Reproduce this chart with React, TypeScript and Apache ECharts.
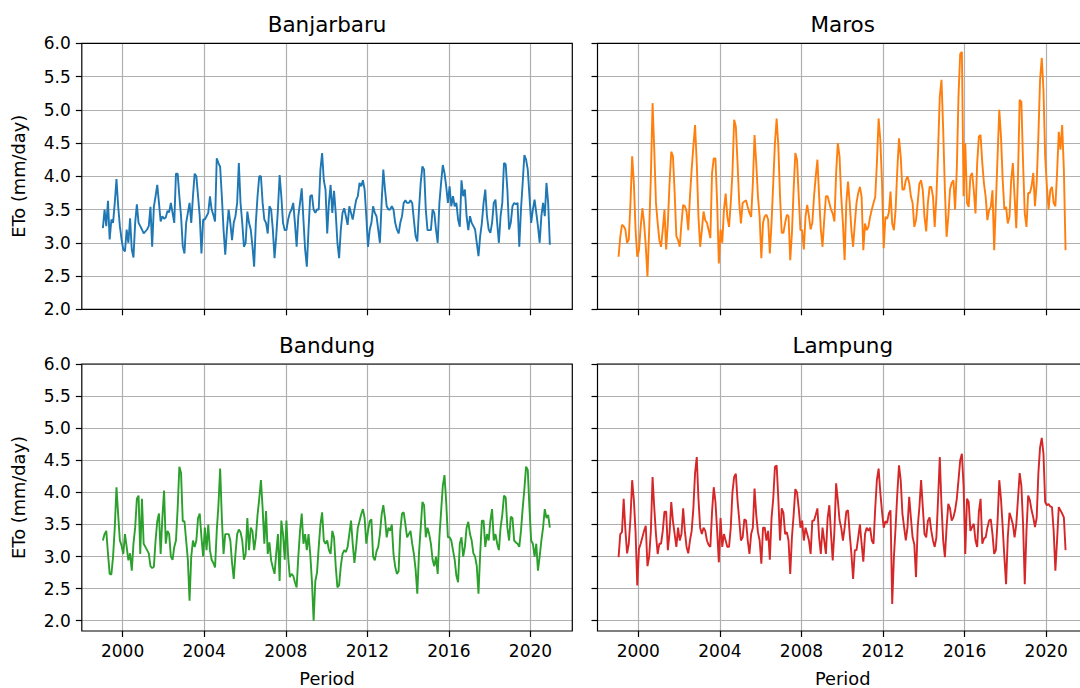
import React, { useEffect, useRef } from "react";
import * as echarts from "echarts";

// ---- data (monthly ETo, Jan 1999 – Dec 2020) ----
const START_YEAR = 1999;
const STATIONS = ["Banjarbaru", "Maros", "Bandung", "Lampung"];
const COLORS = ["#1f77b4", "#ff7f0e", "#2ca02c", "#d62728"];
const YEAR_TICKS = [2000, 2004, 2008, 2012, 2016, 2020];
const Y_TICKS = [2.0, 2.5, 3.0, 3.5, 4.0, 4.5, 5.0, 5.5, 6.0];

const banjarbaru = [
  3.22, 3.5, 3.25, 3.63, 3.05, 3.35, 3.3, 3.6, 3.96, 3.55, 3.25, 3.05,
  2.9, 2.87, 3.2, 3.0, 3.37, 2.9, 2.78, 3.3, 3.58, 3.3, 3.25, 3.2,
  3.14, 3.17, 3.2, 3.25, 3.54, 2.94, 3.54, 3.7, 3.87, 3.6, 3.32, 3.4,
  3.36, 3.38, 3.48, 3.46, 3.6, 3.45, 3.3, 4.04, 4.04, 3.7, 3.4, 2.95,
  2.84, 3.3, 3.45, 3.6, 3.3, 3.7, 4.04, 4.0, 3.7, 3.4, 2.84, 3.35,
  3.35, 3.4, 3.45, 3.7, 3.5, 3.42, 3.32, 4.27, 4.2, 4.14, 3.7, 3.2,
  2.82, 3.2, 3.5, 3.3, 3.04, 3.3, 3.4, 3.6, 4.2, 3.6, 3.3, 2.94,
  3.0, 3.47, 3.3, 3.2, 2.95, 2.64, 3.3, 3.7, 4.0, 4.0, 3.6, 3.35,
  3.3, 3.14, 3.55, 3.5, 3.2, 2.77, 3.1, 3.5, 4.02, 3.7, 3.3, 3.19,
  3.19, 3.35, 3.45, 3.5, 3.6, 3.3, 2.94, 3.4, 3.6, 3.82, 3.35, 2.9,
  2.64, 3.2, 3.7, 3.72, 3.5, 3.45, 3.5, 3.5, 4.1, 4.35, 3.94, 3.8,
  3.14, 3.6, 3.87, 3.45, 3.78, 3.45, 3.0, 2.77, 3.2, 3.45, 3.52, 3.4,
  3.27, 3.55, 3.45, 3.35, 3.5, 3.64, 3.7, 3.9, 3.85, 3.94, 3.8, 3.4,
  2.94, 3.2, 3.3, 3.55, 3.45, 3.4, 3.2, 3.0, 3.6, 4.1, 3.8, 3.55,
  3.5, 3.5, 3.55, 3.5, 3.3, 3.2, 3.14, 3.3, 3.4, 3.6, 3.64, 3.6,
  3.6, 3.64, 3.6, 3.34, 3.1, 3.02, 3.5, 3.9, 4.15, 4.1, 3.5, 3.19,
  3.19, 3.19, 3.5, 3.45, 3.2, 3.0, 3.6, 3.9, 4.17, 4.05, 3.85, 3.6,
  3.85, 3.55, 3.7, 3.55, 3.6, 3.35, 3.24, 3.94, 3.7, 3.8, 3.4, 3.19,
  3.4, 3.3, 3.25, 3.2, 3.0, 2.8, 3.1, 3.3, 3.6, 3.8, 3.4, 3.2,
  3.15, 3.3, 3.6, 3.65, 3.3, 3.0, 3.4, 3.6, 4.2, 4.18, 3.8, 3.2,
  3.3, 3.55, 3.6, 3.58, 3.6, 2.94, 3.5, 3.9, 4.32, 4.25, 4.1, 3.7,
  3.3, 3.5, 3.65, 3.45, 3.25, 3.0, 3.4, 3.6, 3.4, 3.9, 3.6, 2.97,
];

const maros = [
  2.79, 3.09, 3.27, 3.25, 3.2, 3.0, 3.05, 3.6, 4.3, 3.9, 3.19, 2.79,
  2.89, 3.24, 3.52, 3.3, 2.95, 2.49, 3.19, 4.0, 5.1, 4.4, 3.6, 3.3,
  3.04, 2.94, 3.2, 3.5, 2.9, 3.3, 3.9, 4.37, 4.3, 3.75, 3.1, 3.04,
  2.94, 3.29, 3.57, 3.55, 3.47, 3.19, 3.7, 4.1, 4.45, 4.77, 4.2, 3.39,
  2.94, 3.19, 3.47, 3.34, 3.3, 3.19, 3.07, 4.05, 4.27, 4.27, 3.6, 2.69,
  3.2, 3.0, 3.5, 3.74, 3.39, 3.24, 3.6, 4.05, 4.85, 4.75, 4.2, 3.6,
  3.29, 3.6, 3.62, 3.64, 3.54, 3.45, 3.39, 3.89, 4.62, 4.2, 3.7, 3.39,
  2.77, 3.3, 3.4, 3.42, 3.35, 2.84, 3.3, 3.9, 4.5, 4.87, 4.45, 3.7,
  3.15, 3.15, 3.3, 3.42, 3.4, 2.74, 3.15, 3.8, 4.35, 4.25, 3.7, 3.19,
  3.19, 2.9, 3.4, 3.57, 3.4, 3.2, 3.3, 3.7, 4.0, 4.25, 3.7, 3.2,
  2.94, 3.35, 3.7, 3.7, 3.6, 3.5, 3.44, 3.32, 4.05, 4.5, 4.3, 3.7,
  3.29, 2.74, 3.6, 3.92, 3.6, 3.19, 2.94, 3.29, 3.6, 3.75, 3.84, 3.69,
  2.89, 3.29, 3.19, 3.24, 3.39, 3.5, 3.6, 3.69, 4.2, 4.87, 4.55, 3.9,
  2.92, 3.39, 3.36, 3.45, 3.77, 3.29, 3.19, 3.5, 4.1, 4.57, 4.3, 3.8,
  3.8, 3.94, 4.0, 3.9, 3.7, 3.6, 3.24, 3.34, 3.6, 3.89, 3.94, 3.79,
  3.39, 3.17, 3.6, 3.84, 3.84, 3.69, 3.24, 3.69, 4.4, 5.2, 5.45, 4.7,
  3.79, 3.09, 3.39, 3.8, 3.9, 3.94, 3.5, 4.1, 5.2, 5.84, 5.87, 3.7,
  4.5, 3.6, 3.54, 4.0, 4.05, 3.79, 3.44, 4.2, 4.6, 4.62, 4.2, 3.89,
  3.69, 3.34, 3.49, 3.54, 3.79, 2.89, 3.6, 4.3, 5.0, 4.6, 3.95, 3.5,
  3.54, 3.29, 3.39, 3.94, 4.2, 3.69, 3.22, 4.0, 5.15, 5.12, 4.2, 3.44,
  3.24, 3.75, 3.75, 3.85, 4.05, 3.55, 3.9, 4.6, 5.45, 5.78, 5.3, 4.3,
  3.85, 3.5, 3.79, 3.84, 3.6, 3.55, 4.05, 4.67, 4.4, 4.77, 4.1, 2.89,
];

const bandung = [
  3.25, 3.35, 3.4, 3.05, 2.73, 2.72, 3.0, 3.45, 4.08, 3.65, 3.25, 3.17,
  3.04, 3.35, 3.15, 2.94, 3.05, 2.78, 3.2, 3.45, 3.9, 3.95, 3.04, 3.9,
  3.2, 3.15, 3.1, 3.05, 2.85, 2.82, 2.84, 3.25, 3.55, 3.67, 3.04, 3.6,
  4.03, 3.2, 3.4, 3.35, 3.0, 2.95, 3.15, 3.25, 3.75, 4.4, 4.3, 3.55,
  3.55, 3.25, 2.95, 2.31, 3.0, 3.25, 3.15, 3.25, 3.6, 3.67, 3.3, 3.0,
  3.45, 3.1, 3.5, 3.1, 2.95, 2.9, 2.83, 3.4, 3.8, 4.37, 3.6, 3.04,
  3.35, 3.35, 3.35, 3.25, 2.9, 2.65, 3.04, 3.35, 3.42, 3.38, 3.25, 2.95,
  3.04, 3.6, 3.1, 3.45, 3.4, 3.1, 3.3, 3.65, 3.9, 4.19, 3.75, 3.2,
  3.71, 3.04, 3.22, 2.94, 2.83, 2.73, 3.05, 3.35, 2.62, 3.56, 3.35, 2.95,
  3.56, 3.0, 2.68, 2.73, 2.7, 2.6, 2.52, 3.0, 3.4, 3.67, 3.2, 3.35,
  3.1, 3.35, 3.04, 2.62, 2.0, 2.62, 2.75, 3.15, 3.5, 3.69, 3.25, 3.2,
  3.25, 3.1, 3.04, 3.4, 3.3, 2.85, 2.52, 2.55, 2.85, 3.04, 3.1, 3.07,
  3.15, 3.35, 3.56, 3.2, 2.9, 3.15, 3.45, 3.55, 3.66, 3.74, 3.6, 3.2,
  3.4, 3.55, 3.58, 3.0, 2.94, 3.08, 3.15, 3.35, 3.65, 3.8, 3.6, 3.3,
  3.45, 3.4, 3.5, 3.04, 2.84, 2.73, 2.77, 3.4, 3.67, 3.69, 3.5, 3.3,
  3.35, 3.4, 3.2, 3.04, 2.8, 2.42, 3.05, 3.45, 3.85, 3.8, 3.3, 3.45,
  3.35, 3.2, 2.95, 2.85, 3.0, 2.73, 3.3, 3.7, 4.1, 4.27, 3.85, 3.3,
  3.3, 3.25, 3.1, 2.95, 2.7, 2.6, 3.2, 3.3, 3.0, 3.15, 3.45, 3.54,
  3.35, 3.25, 3.05, 3.0, 2.85, 2.42, 3.04, 3.56, 3.56, 3.15, 3.35, 3.25,
  3.56, 3.74, 3.25, 3.35, 3.2, 3.1, 3.45, 3.65, 3.95, 3.92, 3.45, 3.25,
  3.62, 3.6, 3.25, 3.22, 3.2, 3.15, 3.4, 3.75, 4.05, 4.4, 4.35, 3.75,
  3.25, 3.2, 3.0, 3.2, 2.78, 3.0, 3.25, 3.45, 3.74, 3.6, 3.65, 3.45,
];

const lampung = [
  2.99, 3.35, 3.38, 3.9, 3.42, 3.05, 3.2, 3.6, 4.19, 3.88, 3.38, 2.55,
  3.12, 3.2, 3.3, 3.4, 3.48, 2.85, 3.0, 3.4, 4.24, 3.76, 3.35, 3.04,
  3.2, 3.2, 3.4, 3.7, 3.7, 3.1, 3.37, 3.85, 3.55, 3.35, 3.15, 3.45,
  3.25, 3.35, 3.75, 3.4, 3.15, 3.05, 3.25, 3.4, 3.75, 4.3, 4.55, 3.9,
  3.45, 3.35, 3.45, 3.4, 3.25, 3.18, 3.15, 3.7, 4.08, 3.85, 3.4, 2.91,
  3.6, 3.15, 3.35, 3.25, 3.15, 3.15, 3.45, 4.0, 4.24, 4.29, 3.87, 3.57,
  3.25, 3.3, 3.58, 3.56, 3.25, 3.04, 3.35, 3.45, 4.06, 3.65, 3.38, 3.25,
  2.89, 3.45, 3.45, 3.25, 3.4, 2.95, 3.6, 3.9, 4.4, 4.42, 3.9, 3.25,
  3.75, 3.68, 3.35, 3.38, 3.25, 2.73, 3.3, 3.65, 4.05, 4.0, 3.75, 3.45,
  3.56, 3.25, 3.45, 3.35, 3.25, 3.04, 3.56, 3.56, 3.65, 3.75, 3.3, 3.04,
  3.45, 3.25, 3.04, 3.6, 3.8, 3.35, 2.94, 3.4, 4.14, 3.88, 3.57, 3.45,
  3.25, 3.45, 3.7, 3.72, 3.35, 3.04, 2.65, 3.1, 3.1, 3.3, 3.5, 3.2,
  2.92, 3.35, 3.45, 3.4, 3.45, 3.25, 3.2, 3.75, 4.2, 4.37, 4.0, 3.7,
  3.45, 3.55, 3.52, 3.67, 3.72, 2.26, 2.99, 3.46, 3.98, 4.42, 4.19, 3.67,
  3.46, 3.25, 3.46, 3.93, 3.6, 3.3, 3.19, 2.68, 3.46, 3.77, 4.19, 3.77,
  3.35, 3.3, 3.56, 3.61, 3.4, 3.25, 3.15, 3.3, 3.9, 4.55, 3.8, 3.25,
  2.99, 3.46, 3.82, 3.75, 3.56, 3.61, 3.72, 3.9, 4.19, 4.5, 4.6, 4.1,
  3.04, 3.9, 3.85, 3.4, 3.46, 3.51, 3.25, 3.15, 3.7, 3.9, 3.2, 3.28,
  3.3, 3.45, 3.56, 3.58, 3.35, 3.04, 3.1, 3.56, 4.19, 3.9, 3.46, 2.99,
  2.57, 3.3, 3.68, 3.6, 3.5, 3.3, 3.5, 3.9, 4.3, 4.1, 3.5, 2.57,
  3.4, 3.95, 3.88, 3.72, 3.61, 3.46, 3.6, 4.3, 4.7, 4.85, 4.6, 3.85,
  3.8, 3.82, 3.78, 3.77, 3.4, 2.78, 3.25, 3.77, 3.72, 3.67, 3.61, 3.1,
];

const SERIES_VALUES = [banjarbaru, maros, bandung, lampung];

// ---- layout ----
const FONT = '"DejaVu Sans", Verdana, sans-serif';
const X_MIN = 1998.0;
const X_MAX = 2022.05;
const PANELS = [
  { left: 81.8, top: 43.3, width: 490.5, height: 266, yMin: 2.0 },
  { left: 597.5, top: 43.3, width: 490.5, height: 266, yMin: 2.0 },
  { left: 81.8, top: 364, width: 490.5, height: 267, yMin: 1.84 },
  { left: 597.5, top: 364, width: 490.5, height: 267, yMin: 1.84 },
];

function monthToYear(i: number) {
  return START_YEAR + (i + 0.4) / 12;
}

export default function App() {
  const ref = useRef<HTMLDivElement>(null);

  useEffect(() => {
    if (!ref.current) return;
    const chart = echarts.init(ref.current, undefined, { renderer: "svg" });

    const gridLine = { color: "#b0b0b0", width: 1.2 };
    const tickStyle = { color: "#000", width: 1.2 };

    const grids = PANELS.map((p) => ({
      left: p.left,
      top: p.top,
      width: p.width,
      height: p.height,
      containLabel: false,
      show: false,
    }));

    const xAxes = PANELS.map((p, k) => ({
      type: "value",
      gridIndex: k,
      min: X_MIN,
      max: X_MAX,
      axisLine: { show: false, onZero: false },
      axisTick: {
        show: true,
        length: 6,
        lineStyle: tickStyle,
        customValues: YEAR_TICKS,
      },
      axisLabel: {
        show: k >= 2,
        customValues: YEAR_TICKS,
        formatter: (v: number) => String(Math.round(v)),
        fontSize: 17,
        fontFamily: FONT,
        color: "#000",
        margin: 11,
      },
      splitLine: { show: true, lineStyle: gridLine },
    }));

    const yAxes = PANELS.map((p, k) => ({
      type: "value",
      gridIndex: k,
      min: p.yMin,
      max: 6.0,
      axisLine: { show: false, onZero: false },
      axisTick: {
        show: true,
        length: 6,
        lineStyle: tickStyle,
        customValues: Y_TICKS,
      },
      axisLabel: {
        show: k % 2 === 0,
        customValues: Y_TICKS,
        formatter: (v: number) => v.toFixed(1),
        fontSize: 17,
        fontFamily: FONT,
        color: "#000",
        margin: 11,
      },
      splitLine: { show: true, lineStyle: gridLine },
    }));

    const series = SERIES_VALUES.map((vals, k) => ({
      type: "line",
      name: STATIONS[k],
      xAxisIndex: k,
      yAxisIndex: k,
      data: vals.map((v, i) => [monthToYear(i), v]),
      showSymbol: false,
      symbol: "none",
      lineStyle: { color: COLORS[k], width: 1.9 },
      itemStyle: { color: COLORS[k] },
      clip: true,
      z: 3,
    }));

    const graphics: any[] = [];
    PANELS.forEach((p, k) => {
      graphics.push({
        type: "rect",
        z: 100,
        shape: { x: p.left, y: p.top, width: p.width, height: p.height },
        style: { fill: "none", stroke: "#000", lineWidth: 1.2 },
        silent: true,
      });
      graphics.push({
        type: "text",
        z: 100,
        x: p.left + p.width / 2,
        y: p.top - 18.5,
        style: {
          text: STATIONS[k],
          font: `21.5px ${FONT}`,
          fill: "#000",
          textAlign: "center",
          textVerticalAlign: "middle",
        },
      });
      if (k % 2 === 0) {
        graphics.push({
          type: "text",
          z: 100,
          x: 18,
          y: p.top + p.height / 2,
          rotation: Math.PI / 2,
          style: {
            text: "ETo (mm/day)",
            font: `17.8px ${FONT}`,
            fill: "#000",
            textAlign: "center",
            textVerticalAlign: "middle",
          },
        });
      }
      if (k >= 2) {
        graphics.push({
          type: "text",
          z: 100,
          x: p.left + p.width / 2,
          y: 678,
          style: {
            text: "Period",
            font: `17.8px ${FONT}`,
            fill: "#000",
            textAlign: "center",
            textVerticalAlign: "middle",
          },
        });
      }
    });

    chart.setOption({
      animation: false,
      backgroundColor: "#ffffff",
      grid: grids,
      xAxis: xAxes,
      yAxis: yAxes,
      series,
      graphic: { elements: graphics },
    });

    return () => chart.dispose();
  }, []);

  return (
    <div
      style={{
        position: "absolute",
        left: 0,
        top: 0,
        width: 1080,
        height: 688,
        overflow: "hidden",
        background: "#fff",
      }}
    >
      <div ref={ref} style={{ width: 1100, height: 688 }} />
    </div>
  );
}
